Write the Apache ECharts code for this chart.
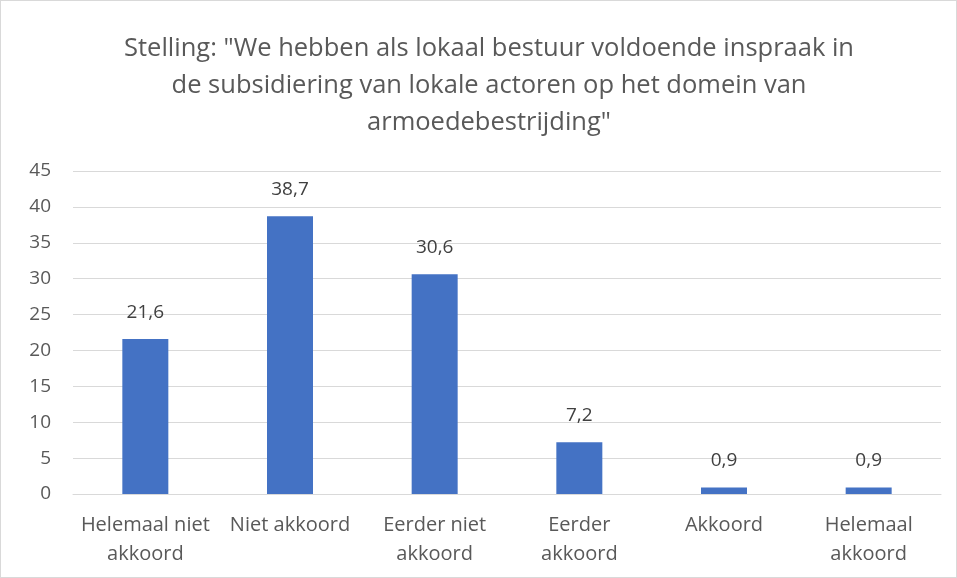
<!DOCTYPE html>
<html>
<head>
<meta charset="utf-8">
<script src="https://cdn.jsdelivr.net/npm/echarts@6/dist/echarts.min.js"></script>
<style>
  html, body { margin: 0; padding: 0; background: #fff; }
  #chart { width: 957px; height: 578px; box-sizing: border-box; border: 1px solid #d9d9d9; }
</style>
</head>
<body>
<div id="chart"></div>
<script>
  // categorieën en percentages
  const categories = ['Helemaal niet\nakkoord', 'Niet akkoord', 'Eerder niet\nakkoord', 'Eerder\nakkoord', 'Akkoord', 'Helemaal\nakkoord'];
  const values = [21.6, 38.7, 30.6, 7.2, 0.9, 0.9];
  const titleText = 'Stelling: "We hebben als lokaal bestuur voldoende inspraak in\nde subsidiering van lokale actoren op het domein van\narmoedebestrijding"';

  const chart = echarts.init(document.getElementById('chart'));
  chart.setOption({
    animation: false,
    textStyle: { fontFamily: 'Open Sans' },
    title: {
      text: titleText,
      left: 483,
      top: 24,
      textAlign: 'center',
      textStyle: { fontSize: 25.5, fontWeight: 'normal', color: '#595959', lineHeight: 37, fontFamily: 'Open Sans', align: 'center' }
    },
    grid: { left: 72, right: 15, top: 170, bottom: 83 },
    xAxis: {
      type: 'category',
      data: categories,
      axisLine: { lineStyle: { color: '#d9d9d9' } },
      axisTick: { show: false },
      axisLabel: { color: '#595959', fontSize: 20, lineHeight: 29, margin: 17, interval: 0 }
    },
    yAxis: {
      type: 'value',
      min: 0,
      max: 45,
      interval: 5,
      axisLine: { show: false },
      axisTick: { show: false },
      splitLine: { lineStyle: { color: '#d9d9d9', width: 1 } },
      axisLabel: { color: '#595959', fontSize: 19, margin: 22, align: 'right' }
    },
    series: [{
      type: 'bar',
      data: values,
      barWidth: 46,
      itemStyle: { color: '#4472c4' },
      label: {
        show: true,
        position: 'top',
        distance: 17,
        color: '#404040',
        fontSize: 19,
        formatter: p => String(p.value).replace('.', ',')
      }
    }]
  });
</script>
</body>
</html>
